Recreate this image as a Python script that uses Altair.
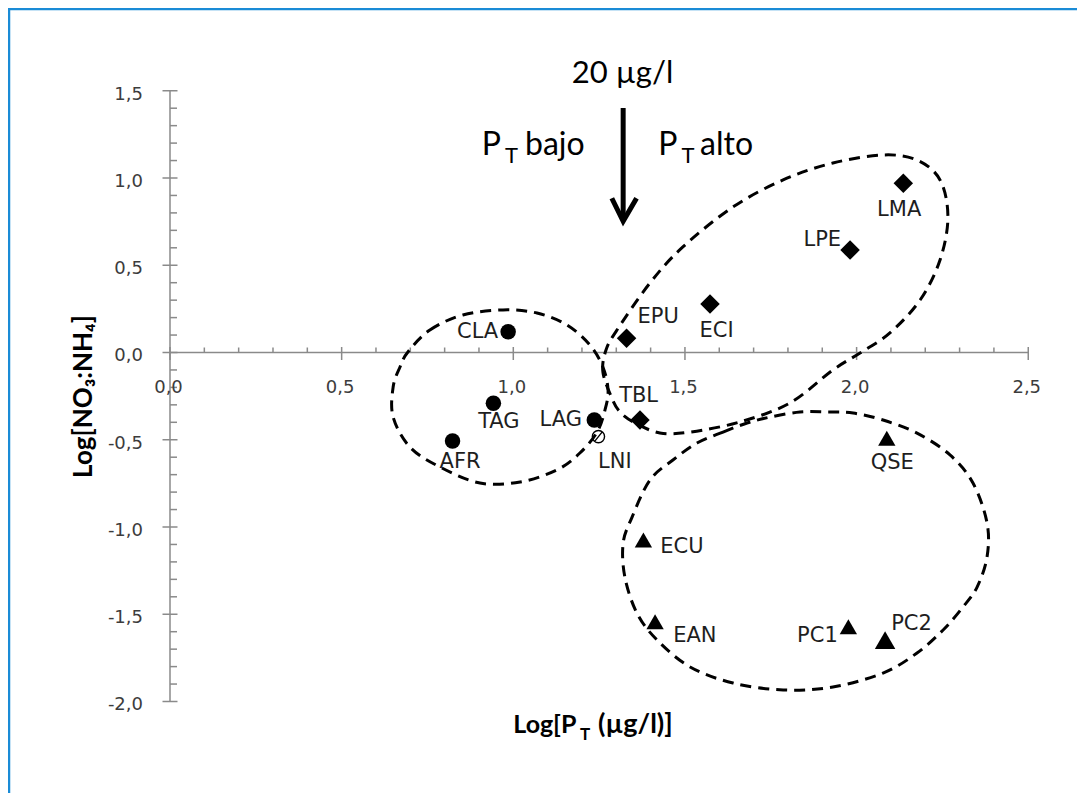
import altair as alt
import pandas as pd

# ---------------- data ----------------
names = ["CLA", "TAG", "AFR", "LAG", "LNI", "EPU", "TBL", "ECI", "LPE", "LMA",
         "QSE", "ECU", "EAN", "PC1", "PC2"]
log_pt = [0.985, 0.942, 0.823, 1.236, 1.248, 1.330, 1.369, 1.573, 1.981, 2.136,
          2.088, 1.379, 1.413, 1.976, 2.083]
log_ratio = [0.119, -0.291, -0.507, -0.387, -0.482, 0.081, -0.387, 0.278, 0.587, 0.970,
             -0.492, -1.074, -1.543, -1.571, -1.648]
groups = ["circulo"] * 4 + ["abierto"] + ["rombo"] * 5 + ["triangulo"] * 5
label_x = [0.896, 0.958, 0.845, 1.138, 1.296, 1.422, 1.365, 1.592, 1.900, 2.124,
           2.104, 1.491, 1.529, 1.886, 2.160]
label_y = [0.116, -0.397, -0.626, -0.387, -0.629, 0.205, -0.249, 0.125, 0.645, 0.817,
           -0.635, -1.116, -1.623, -1.623, -1.556]

# dashed outlines
left_x = [0.693, 0.757, 0.853, 0.970, 1.069, 1.156, 1.223, 1.261, 1.276, 1.267,
          1.244, 1.194, 1.127, 1.020, 0.903, 0.786, 0.699, 0.650, 0.650, 0.670]
left_y = [0.003, 0.129, 0.215, 0.244, 0.226, 0.158, 0.043, -0.083, -0.215, -0.330,
          -0.456, -0.576, -0.673, -0.742, -0.748, -0.656, -0.542, -0.370, -0.198, -0.083]
upper_x = [1.287, 1.261, 1.270, 1.302, 1.398, 1.494, 1.640, 1.786, 1.931, 2.077, 2.176,
           2.243, 2.266, 2.243, 2.185, 2.097, 2.010, 1.931, 1.806, 1.660, 1.515, 1.427,
           1.355, 1.311]
upper_y = [-0.261, -0.112, 0.014, 0.129, 0.398, 0.605, 0.834, 0.989, 1.086, 1.132, 1.103,
           0.989, 0.777, 0.530, 0.301, 0.112, -0.003, -0.100, -0.289, -0.398, -0.456, -0.461,
           -0.404, -0.341]
lower_x = [1.535, 1.611, 1.681, 1.748, 1.835, 1.914, 1.990, 2.077, 2.176, 2.272, 2.339,
           2.380, 2.380, 2.351, 2.310, 2.252, 2.176, 2.077, 1.931, 1.786, 1.640, 1.515,
           1.419, 1.360, 1.325, 1.320, 1.346, 1.398, 1.465]
lower_y = [-0.519, -0.456, -0.404, -0.370, -0.341, -0.341, -0.347, -0.387, -0.462, -0.587,
           -0.748, -0.977, -1.172, -1.344, -1.458, -1.590, -1.722, -1.837, -1.917, -1.934,
           -1.894, -1.802, -1.648, -1.493, -1.287, -1.092, -0.943, -0.731, -0.616]

# axes
x_major = [0.0, 0.5, 1.0, 1.5, 2.0, 2.5]
x_major_labels = ["0,0", "0,5", "1,0", "1,5", "2,0", "2,5"]
x_minor = [0.1, 0.2, 0.3, 0.4, 0.6, 0.7, 0.8, 0.9, 1.1, 1.2, 1.3, 1.4,
           1.6, 1.7, 1.8, 1.9, 2.1, 2.2, 2.3, 2.4]
y_major = [-2.0, -1.5, -1.0, -0.5, 0.0, 0.5, 1.0, 1.5]
y_major_labels = ["-2,0", "-1,5", "-1,0", "-0,5", "0,0", "0,5", "1,0", "1,5"]
y_minor = [-1.9, -1.8, -1.7, -1.6, -1.4, -1.3, -1.2, -1.1, -0.9, -0.8, -0.7, -0.6,
           -0.4, -0.3, -0.2, -0.1, 0.1, 0.2, 0.3, 0.4, 0.6, 0.7, 0.8, 0.9,
           1.1, 1.2, 1.3, 1.4]

# annotation texts
threshold_label = "20 µg/l"
threshold_x = 1.32
side_labels = ["bajo", "alto"]
x_title_parts = ["Log[P", "T", "(µg/l)]"]
y_title = "Log[NO₃:NH₄]"

# ---------------- chart ----------------
W, H = 1069, 785
xs = alt.Scale(domain=[-0.47189, 2.64200], nice=False, zero=False)
ys = alt.Scale(domain=[-2.52436, 1.97421], nice=False, zero=False)


def X(f):
    return alt.X(f, type="quantitative", scale=xs, axis=None)


def Y(f):
    return alt.Y(f, type="quantitative", scale=ys, axis=None)


AXIS_COLOR = "#8a8a8a"
layers = []

# axis lines
axis_df = pd.DataFrame({"x0": [0.0, 0.0], "x1": [2.5, 0.0], "y0": [0.0, -2.0], "y1": [0.0, 1.5]})
layers.append(alt.Chart(axis_df).mark_rule(color=AXIS_COLOR, strokeWidth=1.5).encode(
    x=X("x0"), x2="x1", y=Y("y0"), y2="y1"))

# ticks
xt_major = pd.DataFrame({"v": x_major, "z": [0.0] * len(x_major), "lab": x_major_labels})
xt_minor = pd.DataFrame({"v": x_minor, "z": [0.0] * len(x_minor)})
yt_major = pd.DataFrame({"v": y_major, "z": [0.0] * len(y_major), "lab": y_major_labels})
yt_minor = pd.DataFrame({"v": y_minor, "z": [0.0] * len(y_minor)})

layers.append(alt.Chart(xt_major).mark_tick(orient="vertical", size=13, thickness=1.5,
                                            color=AXIS_COLOR, yOffset=1, opacity=1).encode(
    x=X("v"), y=Y("z")))
layers.append(alt.Chart(xt_minor).mark_tick(orient="vertical", size=5, thickness=1.5,
                                            color=AXIS_COLOR, yOffset=-2.5, opacity=1).encode(
    x=X("v"), y=Y("z")))
layers.append(alt.Chart(yt_major).mark_tick(orient="horizontal", size=15, thickness=1.5,
                                            color=AXIS_COLOR, xOffset=0, opacity=1).encode(
    x=X("z"), y=Y("v")))
layers.append(alt.Chart(yt_minor).mark_tick(orient="horizontal", size=7, thickness=1.5,
                                            color=AXIS_COLOR, xOffset=3.5, opacity=1).encode(
    x=X("z"), y=Y("v")))

# tick labels
layers.append(alt.Chart(xt_major).mark_text(font="DejaVu Sans", fontSize=18, color="#3c3c3c",
                                            align="center", baseline="middle", dy=36, dx=-1.5).encode(
    x=X("v"), y=Y("z"), text="lab:N"))
layers.append(alt.Chart(yt_major).mark_text(font="DejaVu Sans", fontSize=18, color="#3c3c3c",
                                            align="right", baseline="middle", dx=-27, dy=4).encode(
    x=X("z"), y=Y("v"), text="lab:N"))

# dashed outlines
outline_rows = []
for cid, (cx, cy) in enumerate([(left_x, left_y), (upper_x, upper_y), (lower_x, lower_y)]):
    for i, (a, b) in enumerate(zip(cx, cy)):
        outline_rows.append({"id": cid, "i": i, "x": a, "y": b})
outline_df = pd.DataFrame(outline_rows)
layers.append(alt.Chart(outline_df).mark_line(color="black", strokeWidth=3, strokeDash=[11, 7],
                                              interpolate="cardinal-closed").encode(
    x=X("x"), y=Y("y"), detail="id:N", order="i:Q"))

# points
pts = pd.DataFrame({"name": names, "x": log_pt, "y": log_ratio, "g": groups,
                    "lx": label_x, "ly": label_y})
layers.append(alt.Chart(pts).transform_filter(alt.datum.g == "circulo").mark_point(
    shape="circle", filled=True, color="black", opacity=1, size=240).encode(x=X("x"), y=Y("y")))
layers.append(alt.Chart(pts).transform_filter(alt.datum.g == "abierto").mark_point(
    shape="M-1,0A1,1,0,1,1,1,0A1,1,0,1,1,-1,0Z M-0.62,0.78L0.62,-0.78",
    filled=False, color="black", opacity=1, size=150, strokeWidth=1.4).encode(x=X("x"), y=Y("y")))
layers.append(alt.Chart(pts).transform_filter(alt.datum.g == "rombo").mark_point(
    shape="diamond", filled=True, color="black", opacity=1, size=380).encode(x=X("x"), y=Y("y")))
layers.append(alt.Chart(pts).transform_filter(alt.datum.g == "triangulo").mark_point(
    shape="triangle-up", filled=True, color="black", opacity=1).encode(
    x=X("x"), y=Y("y"),
    size=alt.condition(alt.datum.name == "PC2", alt.value(420), alt.value(300))))

# point labels
layers.append(alt.Chart(pts).mark_text(font="DejaVu Sans", fontSize=21, color="#1e1e1e",
                                       align="center", baseline="middle").encode(
    x=X("lx"), y=Y("ly"), text="name:N"))

# threshold arrow
shaft = pd.DataFrame({"x": [threshold_x], "y0": [1.401], "y1": [0.77]})
layers.append(alt.Chart(shaft).mark_rule(color="black", strokeWidth=5).encode(
    x=X("x"), y=Y("y0"), y2="y1"))
head = pd.DataFrame({"i": [0, 1, 2], "x": [1.287, threshold_x, 1.359], "y": [0.884, 0.752, 0.884]})
layers.append(alt.Chart(head).mark_line(color="black", strokeWidth=5, strokeJoin="miter",
                                        strokeCap="butt").encode(
    x=X("x"), y=Y("y"), order="i:Q"))


def txt(x, y, s, size, weight="normal", align="left", baseline="alphabetic", angle=0,
        font="Lato", color="black"):
    df = pd.DataFrame({"x": [x], "y": [y], "t": [s]})
    return alt.Chart(df).mark_text(font=font, fontSize=size, fontWeight=weight, align=align,
                                   baseline=baseline, angle=angle, color=color).encode(
        x=X("x"), y=Y("y"), text="t:N")


layers.append(txt(1.318, 1.544, threshold_label, 31, align="center"))
# P_T bajo / P_T alto
layers.append(txt(0.908, 1.132, "P", 32))
layers.append(txt(0.976, 1.086, "T", 22))
layers.append(txt(1.034, 1.132, side_labels[0], 32))
layers.append(txt(1.422, 1.132, "P", 32))
layers.append(txt(1.490, 1.086, "T", 22))
layers.append(txt(1.544, 1.132, side_labels[1], 32))

# axis titles
layers.append(txt(1.000, -2.182, x_title_parts[0], 25, weight="bold"))
layers.append(txt(1.194, -2.221, x_title_parts[1], 17, weight="bold"))
layers.append(txt(1.247, -2.182, x_title_parts[2], 27, weight="bold"))
layers.append(txt(-0.227, -0.252, y_title, 26, weight="bold", align="center", angle=270))

# blue frame (top and left edges of the panel)
frame_df = pd.DataFrame({"a": [0]})
layers.append(alt.Chart(frame_df).mark_rule(color="#1a8bd6", strokeWidth=2.5).encode(
    x=alt.value(1), y=alt.value(0), y2=alt.value(H)))
layers.append(alt.Chart(frame_df).mark_rule(color="#1a8bd6", strokeWidth=2.5).encode(
    x=alt.value(0), x2=alt.value(W), y=alt.value(1)))

chart = alt.layer(*layers).properties(
    width=W, height=H, autosize=alt.AutoSizeParams(type="none"), padding=0,
    background="white"
).configure_view(stroke=None)

chart.save("out.html", embed_options={"renderer": "svg", "actions": False})
